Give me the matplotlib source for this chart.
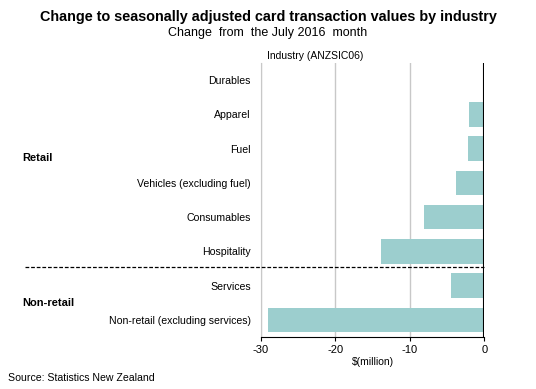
import matplotlib.pyplot as plt
from matplotlib.transforms import blended_transform_factory

plt.rcParams['font.family'] = ['Liberation Sans', 'DejaVu Sans']

categories = ["Durables", "Apparel", "Fuel", "Vehicles (excluding fuel)",
              "Consumables", "Hospitality", "Services",
              "Non-retail (excluding services)"]
values = [-0.2, -2.1, -2.2, -3.8, -8.1, -13.9, -4.45, -29.0]
groups = ["Retail", "Non-retail"]
xticks = [-30, -20, -10, 0]

W, H = 536, 389
fig = plt.figure(figsize=(W / 100, H / 100), dpi=100)
ax = fig.add_axes([260.7 / W, 1 - 337 / H, 223.6 / W, 274 / H])

ypos = list(range(len(categories)))
ax.barh(ypos, values, height=0.71, color="#9ccece", zorder=2)
ax.set_xlim(-30, 0)
ax.set_ylim(len(categories) - 0.5, -0.5)

ax.set_xticks(xticks)
ax.set_xticklabels([str(t) for t in xticks], fontsize=8)
ax.set_yticks(ypos)
ax.set_yticklabels(categories, fontsize=7.6)
ax.tick_params(axis="y", length=0, pad=7)
ax.tick_params(axis="x", length=3, width=0.8, pad=3, color="black")
for s in ["top", "right"]:
    ax.spines[s].set_visible(False)
ax.spines["left"].set_color("#c8c8c8")
ax.spines["bottom"].set_color("black")
ax.grid(axis="x", color="#c8c8c8", linewidth=1, zorder=0)
ax.axvline(0, color="black", linewidth=1.5, zorder=3)

# dashed separator between retail and non-retail
trans = blended_transform_factory(ax.transAxes, ax.transData)
x0 = (25 - 260.7) / 223.6
ax.plot([x0, 1], [5.46, 5.46], transform=trans, color="black",
        linestyle=(0, (3, 1.5)), linewidth=0.9, clip_on=False, zorder=4)

fig.text(22 / W, 1 - 158 / H, groups[0], fontsize=8, fontweight="bold",
         ha="left", va="center")
fig.text(22 / W, 1 - 303 / H, groups[1], fontsize=8, fontweight="bold",
         ha="left", va="center")

fig.text(268 / W, 1 - 17 / H,
         "Change to seasonally adjusted card transaction values by industry",
         fontsize=10.4, fontweight="bold", ha="center", va="center")
fig.text(268 / W, 1 - 33 / H, "Change  from  the July 2016  month",
         fontsize=9, ha="center", va="center")
fig.text(315 / W, 1 - 56 / H, "Industry (ANZSIC06)", fontsize=7.5,
         ha="center", va="center")
fig.text(373 / W, 1 - 362 / H, "$(million)", fontsize=7.5,
         ha="center", va="center")
fig.text(8 / W, 1 - 378 / H, "Source: Statistics New Zealand", fontsize=7.6,
         ha="left", va="center")

fig.savefig("out.png", dpi=100)
